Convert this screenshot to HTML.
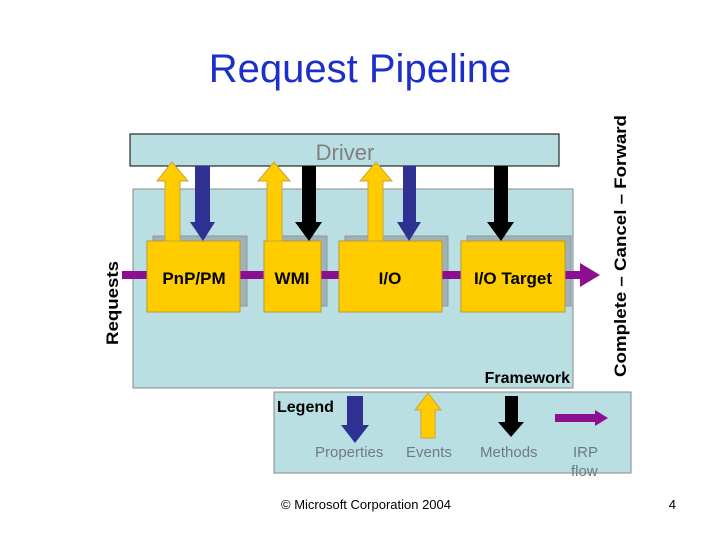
<!DOCTYPE html>
<html><head><style>body{margin:0;background:#fff}svg{display:block}</style></head><body>
<svg width="720" height="540" xmlns="http://www.w3.org/2000/svg" font-family="Liberation Sans, Arial, sans-serif">
<text x="360" y="82" text-anchor="middle" font-size="40" fill="#1c2fc8">Request Pipeline</text>
<rect x="133" y="189" width="440" height="199" fill="#b9dfe3" stroke="#888" stroke-width="1"/>
<text x="570" y="383" text-anchor="end" font-size="16" font-weight="bold">Framework</text>
<rect x="130" y="134" width="429" height="32" fill="#b9dfe3" stroke="#000" stroke-width="1"/>
<text x="345" y="160" text-anchor="middle" font-size="22" fill="#808080">Driver</text>
<rect x="122" y="271" width="460" height="8" fill="#8b0f90"/>
<polygon points="580,263 600,275 580,287" fill="#8b0f90"/>
<g fill="#9fb2b6" stroke="#8a9a9e">
<rect x="153" y="236" width="94" height="70"/>
<rect x="270" y="236" width="57" height="70"/>
<rect x="345" y="236" width="103" height="70"/>
<rect x="467" y="236" width="104" height="70"/>
</g>
<g fill="#8b0f90"><rect x="240" y="271" width="30" height="8"/><rect x="321" y="271" width="24" height="8"/><rect x="442" y="271" width="25" height="8"/><rect x="565" y="271" width="16" height="8"/></g>
<g fill="#ffcc00" stroke="#b99a30">
<rect x="147" y="241" width="93" height="71"/>
<rect x="264" y="241" width="57" height="71"/>
<rect x="339" y="241" width="103" height="71"/>
<rect x="461" y="241" width="104" height="71"/>
</g>
<g font-size="17" font-weight="bold" text-anchor="middle">
<text x="194" y="284">PnP/PM</text><text x="292" y="284">WMI</text><text x="390" y="284">I/O</text><text x="513" y="284">I/O Target</text>
</g>
<g fill="#ffcc00" stroke="#c9a640">
<polygon points="165,241 165,181 157,181 172,162 188,181 180,181 180,241"/>
<polygon points="267,241 267,181 258,181 274,162 290,181 282,181 282,241"/>
<polygon points="368,241 368,181 360,181 376,162 392,181 383,181 383,241"/>
</g>
<polygon points="195,166 210,166 210,222 215,222 203,241 190,222 195,222" fill="#2e3192"/>
<polygon points="403,166 416,166 416,222 421,222 409,241 397,222 403,222" fill="#2e3192"/>
<polygon points="302,166 316,166 316,222 322,222 309,241 295,222 302,222" fill="#000"/>
<polygon points="494,166 508,166 508,222 514,222 501,241 487,222 494,222" fill="#000"/>
<text transform="translate(118,303) rotate(-90)" text-anchor="middle" font-size="17" font-weight="bold" textLength="84" lengthAdjust="spacingAndGlyphs">Requests</text>
<text transform="translate(626,246) rotate(-90)" text-anchor="middle" font-size="17" font-weight="bold" textLength="262" lengthAdjust="spacingAndGlyphs">Complete – Cancel – Forward</text>
<rect x="274" y="392" width="357" height="81" fill="#b9dfe3" stroke="#888"/>
<text x="277" y="412" font-size="16" font-weight="bold">Legend</text>
<polygon points="347,396 363,396 363,425 369,425 355,443 341,425 347,425" fill="#2e3192"/>
<polygon points="421,438 421,410 415,410 428,393 441,410 435,410 435,438" fill="#ffcc00" stroke="#c9a640"/>
<polygon points="505,396 518,396 518,422 524,422 511,437 498,422 505,422" fill="#000"/>
<polygon points="555,414 595,414 595,410 608,418 595,426 595,422 555,422" fill="#8b0f90"/>
<g font-size="15" fill="#707a80">
<text x="315" y="457">Properties</text><text x="406" y="457">Events</text><text x="480" y="457">Methods</text>
<text x="573" y="457">IRP</text><text x="571" y="476">flow</text>
</g>
<text x="366" y="509" text-anchor="middle" font-size="13">© Microsoft Corporation 2004</text>
<text x="676" y="509" text-anchor="end" font-size="13">4</text>
</svg>
</body></html>
